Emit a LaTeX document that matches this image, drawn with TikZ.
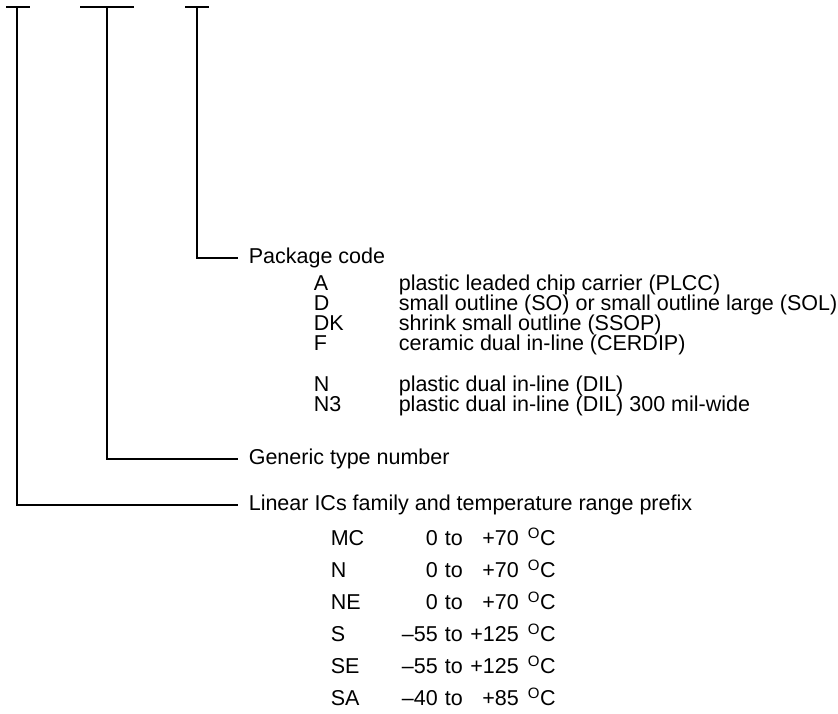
\documentclass[tikz,border=0pt]{standalone}
\usepackage{fontspec}
\setmainfont{Liberation Sans}
\usetikzlibrary{positioning}
\newcommand{\pkgrow}[2]{\makebox[85pt][l]{#1}#2}
\newcommand{\temprow}[3]{\makebox[70pt][l]{#1}\makebox[37pt][r]{#2}\makebox[32pt][c]{to}\makebox[49pt][r]{#3}\hspace{9pt}\textsuperscript{O}C}
\begin{document}
\begin{tikzpicture}[x=1pt, y=-1pt, line width=1.6pt,
		every node/.style={font=\fontsize{21.5}{25}\selectfont, inner sep=0pt},
		fieldname/.style={anchor=west, inner xsep=10pt},
		entry/.style={anchor=west}]
	\useasboundingbox (0,0) rectangle (838,714);
	% T-bars on top
	\coordinate (B1l) at (6,7);
	\coordinate (B1r) at (30,7);
	\coordinate (T1) at (17,7);
	\coordinate (B2l) at (80,7);
	\coordinate (B2r) at (134,7);
	\coordinate (T2) at (107,7);
	\coordinate (B3l) at (185,7);
	\coordinate (B3r) at (209,7);
	\coordinate (T3) at (197,7);
	\draw (B1l) -- (B1r);
	\draw (B2l) -- (B2r);
	\draw (B3l) -- (B3r);
	% field names
	\node[fieldname] (package) at (238,258) {Package code};
	\node[fieldname] (generic) at (238,459) {Generic type number};
	\node[fieldname] (family) at (238,505) {Linear ICs family and temperature range prefix};
	\draw (T3) |- (package.west);
	\draw (T2) |- (generic.west);
	\draw (T1) |- (family.west);
	% package codes
	\node[entry] (pkgA) at (313,285) {\pkgrow{A}{plastic leaded chip carrier (PLCC)}};
	\node[entry] (pkgD) at (313,305) {\pkgrow{D}{small outline (SO) or small outline large (SOL)}};
	\node[entry] (pkgDK) at (313,325) {\pkgrow{DK}{shrink small outline (SSOP)}};
	\node[entry] (pkgF) at (313,345) {\pkgrow{F}{ceramic dual in-line (CERDIP)}};
	\node[entry] (pkgN) at (313,386) {\pkgrow{N}{plastic dual in-line (DIL)}};
	\node[entry] (pkgNthree) at (313,406) {\pkgrow{N3}{plastic dual in-line (DIL) 300 mil-wide}};
	% temperature ranges
	\node[entry] (tmpMC) at (330,537) {\temprow{MC}{0}{+70}};
	\node[entry] (tmpN) at (330,569) {\temprow{N}{0}{+70}};
	\node[entry] (tmpNE) at (330,601) {\temprow{NE}{0}{+70}};
	\node[entry] (tmpS) at (330,633) {\temprow{S}{–55}{+125}};
	\node[entry] (tmpSE) at (330,665) {\temprow{SE}{–55}{+125}};
	\node[entry] (tmpSA) at (330,697) {\temprow{SA}{–40}{+85}};
\end{tikzpicture}
\end{document}
